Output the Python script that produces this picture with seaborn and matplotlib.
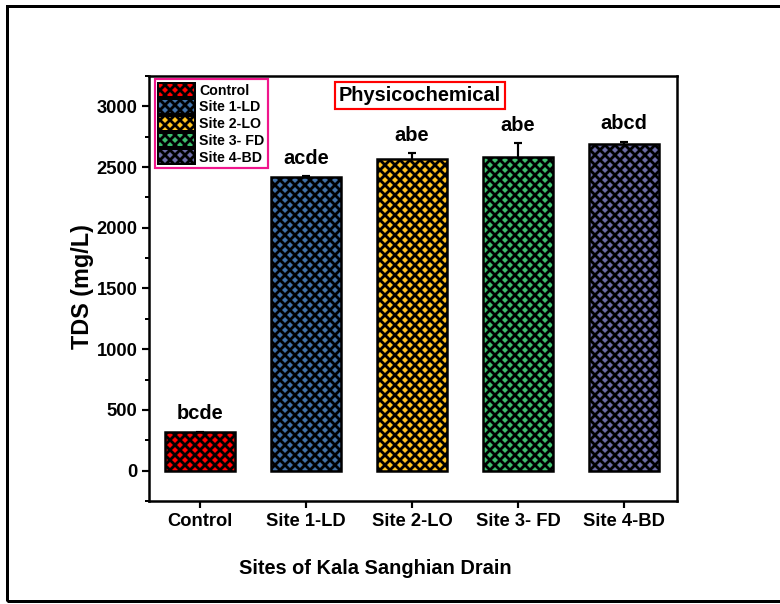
import matplotlib
matplotlib.use("Agg")
import matplotlib.pyplot as plt
from matplotlib.patches import Patch, Rectangle
from matplotlib.ticker import MultipleLocator
import seaborn as sns
import pandas as pd

# TDS measurements along the Kala Sanghian Drain
sites = ["Control", "Site 1-LD", "Site 2-LO", "Site 3- FD", "Site 4-BD"]
tds = [316, 2421, 2568, 2587, 2694]
tds_err = [6, 6, 45, 110, 15]
groups = ["bcde", "acde", "abe", "abe", "abcd"]
bar_colors = ["#FF0000", "#3F70A8", "#FFC21E", "#3CBE6C", "#6B6BA6"]

sns.set_theme(style="ticks")
plt.rcParams["font.family"] = ["Liberation Sans", "DejaVu Sans"]
plt.rcParams["font.weight"] = "bold"
plt.rcParams["text.color"] = "black"
plt.rcParams["axes.labelcolor"] = "black"
plt.rcParams["xtick.color"] = "black"
plt.rcParams["ytick.color"] = "black"
plt.rcParams["hatch.linewidth"] = 1.7
plt.rcParams["hatch.color"] = "black"

df = pd.DataFrame({"site": sites, "tds": tds})

fig = plt.figure(figsize=(6.5, 604 / 120), dpi=120)
ax = fig.add_axes([149 / 780, 1 - 501 / 604, 528 / 780, 425 / 604])

sns.barplot(data=df, x="site", y="tds", hue="site", palette=bar_colors,
            saturation=1, width=0.66, edgecolor="black", linewidth=1.5,
            errorbar=None, legend=False, ax=ax, zorder=2)
for cont in ax.containers:
    for bar in cont:
        bar.set_hatch("xxxx")

ax.errorbar(range(len(sites)), tds, yerr=tds_err, fmt="none", ecolor="black",
            elinewidth=1.3, capsize=2.5, capthick=1.3, zorder=1)

for i, (v, e, g) in enumerate(zip(tds, tds_err, groups)):
    ax.annotate(g, xy=(i, v + e), xytext=(0, 5), textcoords="offset points",
                ha="center", va="bottom", fontsize=12, fontweight="bold")

ax.set_xlim(-0.48, 4.5)
ax.set_ylim(-250, 3250)
ax.yaxis.set_major_locator(MultipleLocator(500))
ax.yaxis.set_minor_locator(MultipleLocator(250))
ax.tick_params(axis="both", which="major", direction="out", length=4,
               width=1.3, labelsize=11, colors="black", pad=3)
ax.tick_params(axis="y", which="minor", direction="out", length=2.5, width=1.2)
for lab in ax.get_xticklabels() + ax.get_yticklabels():
    lab.set_fontweight("bold")
for sp in ax.spines.values():
    sp.set_visible(True)
    sp.set_linewidth(1.5)
    sp.set_color("black")

ax.set_xlabel("Sites of Kala Sanghian Drain", fontsize=12, fontweight="bold")
ax.xaxis.set_label_coords(0.428, -0.136)
ax.set_ylabel("TDS (mg/L)", fontsize=14, fontweight="bold")
ax.yaxis.set_label_coords(-0.105, 0.505)

ax.text(0.513, 0.955, "Physicochemical", transform=ax.transAxes, ha="center",
        va="center", fontsize=12, fontweight="bold",
        bbox=dict(boxstyle="square,pad=0.2", facecolor="white",
                  edgecolor="#FF0000", linewidth=1.3))

handles = [Patch(facecolor=c, edgecolor="black", hatch="xxxx", linewidth=1.2,
                 label=s) for c, s in zip(bar_colors, sites)]
leg = ax.legend(handles=handles, loc="upper left", bbox_to_anchor=(0.011, 0.993),
                prop={"size": 8.5, "weight": "bold"}, frameon=True, fancybox=False,
                handlelength=2.6, handleheight=1.2, handletextpad=0.3,
                labelspacing=0.12, borderpad=0.25, borderaxespad=0.0)
leg.get_frame().set_edgecolor("#F0168C")
leg.get_frame().set_linewidth(1.3)
leg.get_frame().set_alpha(1)

fig.patches.append(Rectangle((7 / 780, 1 - 601 / 604), 1.0, 595 / 604,
                             transform=fig.transFigure, fill=False,
                             edgecolor="black", linewidth=1.8))

fig.savefig("out.png", dpi=120, facecolor="white")
